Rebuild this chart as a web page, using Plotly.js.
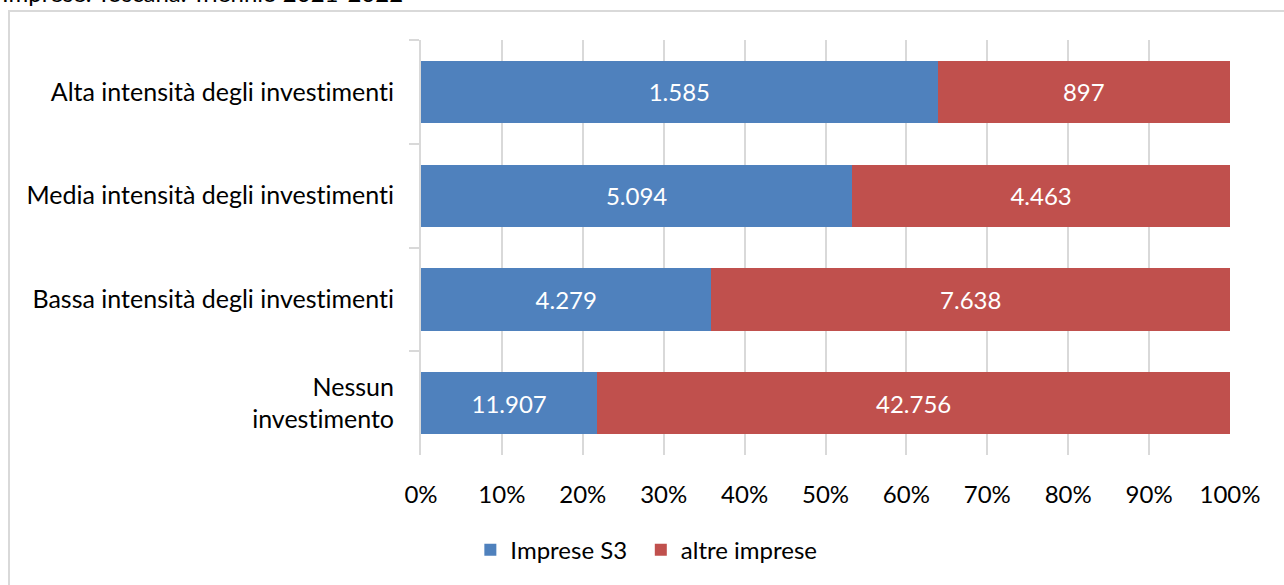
<!DOCTYPE html>
<html>
<head>
<meta charset="utf-8">
<script src="https://cdn.plot.ly/plotly-3.0.1.min.js"></script>
<style>
  html, body { margin: 0; padding: 0; background: #fff; overflow: hidden; }
  #wrap { position: relative; width: 1284px; height: 585px; }
  #chart { position: absolute; left: 0; top: 0; width: 1284px; height: 585px; }
  #frame { position: absolute; left: 8px; top: 10px; width: 1400px; height: 700px;
           border: 2px solid #d9d9d9; box-sizing: border-box; pointer-events: none; }
  .main-svg text { font-variant-ligatures: none; font-feature-settings: "liga" 0; }
</style>
</head>
<body>
<div id="wrap">
  <div id="frame"></div>
  <div id="chart"></div>
</div>
<script>
// Categories (top to bottom) and company counts per group
const categories = [
  "Alta intensità degli investimenti",
  "Media intensità degli investimenti",
  "Bassa intensità degli investimenti",
  "Nessun<br>investimento"
];
const impreseS3 = [1585, 5094, 4279, 11907];
const altreImprese = [897, 4463, 7638, 42756];
const xTickVals = [0, 10, 20, 30, 40, 50, 60, 70, 80, 90, 100];
const xTickText = ["0%", "10%", "20%", "30%", "40%", "50%", "60%", "70%", "80%", "90%", "100%"];
const titleText = "Imprese. Toscana. Triennio 2021-2022";

// Italian thousands separator
function fmt(n) {
  return String(n).replace(/\B(?=(\d{3})+(?!\d))/g, ".");
}

const FONT = "Lato, 'Open Sans', sans-serif";
const FS = 24;

const traces = [
  {
    type: "bar", orientation: "h", name: "Imprese S3", legend: "legend",
    y: categories, x: impreseS3,
    text: impreseS3.map(fmt), textposition: "inside", insidetextanchor: "middle",
    textfont: { color: "#ffffff", size: FS, family: FONT },
    marker: { color: "#4f81bd" }, hoverinfo: "skip"
  },
  {
    type: "bar", orientation: "h", name: "altre imprese", legend: "legend2",
    y: categories, x: altreImprese,
    text: altreImprese.map(fmt), textposition: "inside", insidetextanchor: "middle",
    textfont: { color: "#ffffff", size: FS, family: FONT },
    marker: { color: "#c0504d" }, hoverinfo: "skip"
  }
];

const legendStyle = {
  orientation: "h", xanchor: "left", y: -0.175, yanchor: "top",
  font: { family: FONT, size: FS, color: "#000000" },
  itemwidth: 30, bgcolor: "rgba(0,0,0,0)"
};

const layout = {
  width: 1284, height: 585,
  paper_bgcolor: "rgba(0,0,0,0)", plot_bgcolor: "rgba(0,0,0,0)",
  margin: { l: 421, r: 54, t: 40, b: 124, pad: 0 },
  font: { family: FONT, size: FS, color: "#000000" },
  barmode: "stack", barnorm: "percent", bargap: 0.4,
  showlegend: true,
  legend: Object.assign({}, legendStyle, { x: 0.061 }),
  legend2: Object.assign({}, legendStyle, { x: 0.2717 }),
  xaxis: {
    range: [0, 100], tickmode: "array", tickvals: xTickVals, ticktext: xTickText,
    showgrid: true, gridcolor: "#d9d9d9", gridwidth: 2,
    zeroline: false, showline: false, ticks: "", ticklabelstandoff: 23,
    tickfont: { family: FONT, size: FS, color: "#000000" },
    fixedrange: true
  },
  yaxis: {
    type: "category", autorange: "reversed",
    showline: true, linecolor: "#d9d9d9", linewidth: 2,
    ticks: "outside", tickson: "boundaries", ticklen: 10, tickcolor: "#d9d9d9", tickwidth: 2,
    ticklabelstandoff: 20, showgrid: false, zeroline: false, fixedrange: true,
    tickfont: { family: FONT, size: 25, color: "#000000" }
  },
  annotations: [
    {
      text: titleText, xref: "paper", yref: "paper",
      x: -421 / 809, xanchor: "left", y: 1.075, yanchor: "bottom",
      showarrow: false, font: { family: FONT, size: FS, color: "#000000" }
    }
  ]
};

Plotly.newPlot("chart", traces, layout, { displayModeBar: false, staticPlot: true });
</script>
</body>
</html>
